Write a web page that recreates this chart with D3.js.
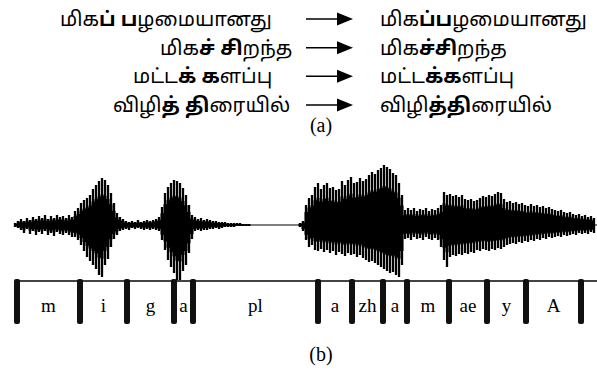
<!DOCTYPE html>
<html><head><meta charset="utf-8">
<script src="https://cdn.jsdelivr.net/npm/d3@7"></script>
<style>body{margin:0;background:#fff}svg{display:block}</style>
</head><body>
<script>
// ---- Data ----
// (a) sandhi examples: [text, bold?] pieces for left (separated) and right (joined) forms
const leftWords = [
  [["மிக",0],["ப்",1],[" ",0],["ப",1],["ழமையானது",0]],
  [["மிக",0],["ச்",1],[" ",0],["சி",1],["றந்த",0]],
  [["மட்ட",0],["க்",1],[" ",0],["க",1],["ளப்பு",0]],
  [["விழி",0],["த்",1],[" ",0],["தி",1],["ரையில்",0]]
];
const rightWords = [
  [["மிக",0],["ப்ப",1],["ழமையானது",0]],
  [["மிக",0],["ச்சி",1],["றந்த",0]],
  [["மட்ட",0],["க்க",1],["ளப்பு",0]],
  [["விழி",0],["த்தி",1],["ரையில்",0]]
];
const panelLabels = ["(a)", "(b)"];

// (b) waveform: one column every 6 ms, upward and downward peak amplitude (arbitrary units)
const sampleStepMs = 6;
const waveUp = [2,4,6,4,7,5,8,6,9,7,10,6,9,7,10,8,9,7,10,8,14,
  17,22,25,27,30,36,40,44,47,45,40,32,22,12,
  8,6,4,3,4,3,5,3,4,5,4,5,6,8,
  18,32,38,42,45,44,42,37,30,20,10,
  8,6,7,5,6,5,4,4,3,3,3,2,2,2,2,2,1,1,1,
  0,0,0,0,0,0,0,0,0,0,0,0,0,0,0,0,
  2,4,
  20,27,30,38,42,36,40,42,37,38,35,36,44,40,45,48,42,43,47,44,46,50,53,51,55,57,60,58,56,52,50,42,30,
  15,17,15,17,14,16,15,17,14,16,15,17,20,
  33,30,31,29,30,28,30,26,25,26,24,25,27,29,28,30,29,31,33,32,
  26,23,24,22,23,21,22,20,19,21,19,20,18,19,17,18,16,15,14,15,13,12,13,11,10,11,9,10,8,9,7];
const waveDown = [2,3,5,8,4,9,6,10,7,9,6,10,8,11,7,9,10,8,10,12,12,
  15,20,26,32,36,40,44,50,52,40,34,22,14,10,
  6,5,4,5,3,4,3,4,5,4,5,4,5,6,
  15,25,35,42,48,55,56,46,40,28,14,
  6,5,6,5,5,4,4,3,4,3,2,2,2,2,1,1,1,1,1,
  0,0,0,0,0,0,0,0,0,0,0,0,0,0,0,0,
  2,6,
  15,22,20,25,26,24,27,25,28,26,30,27,29,31,28,30,29,32,30,33,35,37,36,38,40,42,44,46,48,47,50,52,40,
  14,13,15,12,14,13,15,12,14,15,13,15,22,
  35,42,32,30,31,29,30,28,29,27,28,25,26,24,25,26,24,25,23,24,
  22,20,19,18,19,17,18,16,17,15,16,14,15,13,14,12,13,12,11,12,10,11,10,9,10,8,9,8,9,7,8];
const totalMs = 1164;

// phone segmentation: boundaries (ms) and labels
const segBounds = [4,130,224,318,356,606,674,736,784,868,944,1022,1132];
const segLabels = ["m","i","g","a","pl","a","zh","a","m","ae","y","A"];

// ---- Drawing ----
const W = 597, H = 371;
const svg = d3.select("body").append("svg").attr("width", W).attr("height", H);

const tamilFont = "'Noto Sans Tamil','Lohit Tamil','Latha','Noto Sans','DejaVu Sans',sans-serif";
const serif = "'Liberation Serif','Times New Roman',serif";
const rowY = d3.scalePoint().domain(d3.range(leftWords.length)).range([19, 105]);
const leftX = [60, 160, 133, 113];

function drawWord(g, pieces, x, y) {
  const t = g.append("text").attr("x", x).attr("y", y + 7)
    .attr("font-family", tamilFont).attr("font-size", 20).attr("fill", "#000")
    .attr("xml:space", "preserve").style("white-space", "pre");
  pieces.forEach(([s, b]) => t.append("tspan").text(s).attr("font-weight", b ? "bold" : "normal"));
}
const gA = svg.append("g");
leftWords.forEach((w, i) => drawWord(gA, w, leftX[i], rowY(i)));
rightWords.forEach((w, i) => drawWord(gA, w, 380, rowY(i)));
leftWords.forEach((w, i) => {
  const y = rowY(i);
  gA.append("line").attr("x1", 306).attr("x2", 340).attr("y1", y).attr("y2", y)
    .attr("stroke", "#000").attr("stroke-width", 1.5);
  gA.append("path").attr("d", `M337,${y-6.5}L353,${y}L337,${y+6.5}Z`).attr("fill", "#000");
});
svg.append("text").attr("x", 321).attr("y", 132).attr("text-anchor", "middle")
  .attr("font-family", serif).attr("font-size", 20).text(panelLabels[0]);

// waveform
const x = d3.scaleLinear().domain([0, totalMs]).range([15, 597]);
const yAmp = d3.scaleLinear().domain([-60, 60]).range([285, 165]);
const gW = svg.append("g");
gW.append("line").attr("x1", x(0)).attr("x2", x(totalMs)).attr("y1", yAmp(0)).attr("y2", yAmp(0))
  .attr("stroke", "#555").attr("stroke-width", 1.5);
const cols = waveUp.map((u, i) => ({t: i * sampleStepMs, u, d: waveDown[i]}));
// solid core
gW.append("path").datum(cols)
  .attr("d", d3.area().x(c => x(c.t)).y0(c => yAmp(-c.d * 0.65)).y1(c => yAmp(c.u * 0.65)).curve(d3.curveStep))
  .attr("fill", "#000");
gW.selectAll("line.sp").data(cols.filter(c => c.u > 0 || c.d > 0)).join("line").attr("class", "sp")
  .attr("x1", c => x(c.t)).attr("x2", c => x(c.t))
  .attr("y1", c => yAmp(c.u)).attr("y2", c => yAmp(-c.d))
  .attr("stroke", "#000").attr("stroke-width", 2.3);

// segmentation tier
const gS = svg.append("g");
gS.append("line").attr("x1", x(0)).attr("x2", x(totalMs)).attr("y1", 281).attr("y2", 281)
  .attr("stroke", "#444").attr("stroke-width", 2);
gS.selectAll("rect").data(segBounds).join("rect")
  .attr("x", d => x(d) - 3).attr("y", 279).attr("width", 6).attr("height", 45).attr("rx", 2)
  .attr("fill", "#111");
gS.selectAll("text").data(segLabels).join("text")
  .attr("x", (d, i) => (x(segBounds[i]) + x(segBounds[i + 1])) / 2).attr("y", 312)
  .attr("text-anchor", "middle")
  .attr("font-family", serif).attr("font-size", 19)
  .text(d => d);
svg.append("text").attr("x", 321).attr("y", 361).attr("text-anchor", "middle")
  .attr("font-family", serif).attr("font-size", 20).text(panelLabels[1]);
</script>
</body></html>
